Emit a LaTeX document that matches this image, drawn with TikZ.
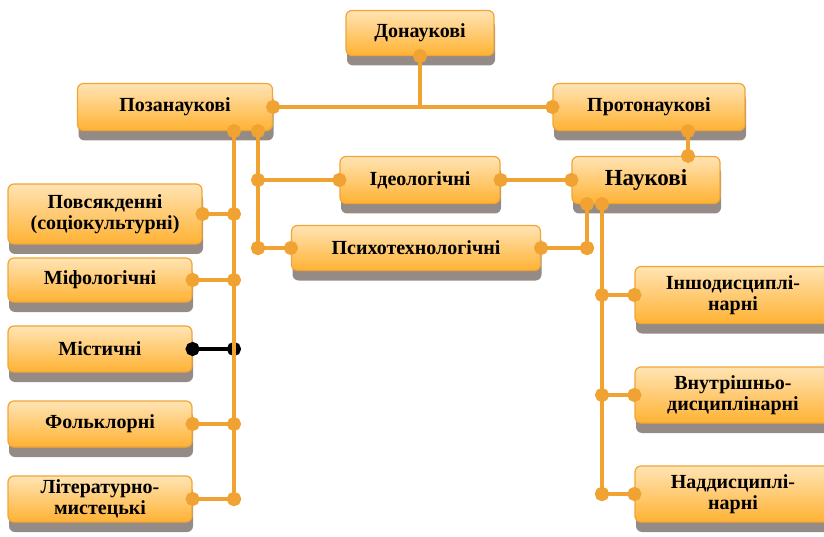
\documentclass[tikz,border=0pt]{standalone}
\usepackage{fontspec}
\setmainfont{Liberation Serif}
\usetikzlibrary{shadows,arrows.meta}
\definecolor{boxtop}{HTML}{FFE4B4}
\definecolor{boxbot}{HTML}{FFB233}
\definecolor{boxedge}{HTML}{F2A535}
\definecolor{lnkor}{HTML}{F0A232}
\definecolor{shadowgrey}{HTML}{948A86}

\begin{document}
\begin{tikzpicture}[x=1pt,y=-1pt,
		blok/.style={draw=boxedge,line width=1.2pt,rounded corners=6pt,top color=boxtop,bottom color=boxbot,
			general shadow={fill=shadowgrey,shadow yshift=-10pt,shadow xshift=1pt},
			font=\bfseries\fontsize{20}{21}\selectfont,align=center,inner sep=0pt},
		lnk/.style={draw=lnkor,line width=4pt,{Circle[length=14pt]}-{Circle[length=14pt]},shorten <=-7pt,shorten >=-7pt},
		blk/.style={lnk,draw=black}]
		\useasboundingbox (0,0) rectangle (824,537);
		\node[blok,minimum width=148pt,minimum height=45pt] (dona) at (420,33) {Донаукові};
		\node[blok,minimum width=195pt,minimum height=47pt] (poza) at (175,107) {Позанаукові};
		\node[blok,minimum width=192pt,minimum height=47pt] (proto) at (649,107) {Протонаукові};
		\node[blok,minimum width=160pt,minimum height=47pt] (ideo) at (420,180) {Ідеологічні};
		\node[blok,minimum width=148pt,minimum height=47pt,font=\bfseries\fontsize{23}{26}\selectfont] (nauk) at (646,180) {Наукові};
		\node[blok,minimum width=249pt,minimum height=45pt] (psy) at (416,248) {Психотехнологічні};
		\node[blok,minimum width=194pt,minimum height=60pt] (povs) at (105,214) {Повсякденні\\(соціокультурні)};
		\node[blok,minimum width=184pt,minimum height=44pt] (mif) at (100,280) {Міфологічні};
		\node[blok,minimum width=184pt,minimum height=46pt] (mist) at (100,349) {Містичні};
		\node[blok,minimum width=184pt,minimum height=46pt] (folk) at (100,424) {Фольклорні};
		\node[blok,minimum width=184pt,minimum height=46pt] (lit) at (100,499) {Літературно-\\мистецькі};
		\node[blok,minimum width=196pt,minimum height=57pt] (inshe) at (733,295) {Іншодисциплі-\\нарні};
		\node[blok,minimum width=196pt,minimum height=56pt] (vnut) at (733,395) {Внутрішньо-\\дисциплінарні};
		\node[blok,minimum width=196pt,minimum height=56pt] (nadd) at (733,494) {Наддисциплі-\\нарні};

		\coordinate (lv) at (234,0);
		\coordinate (mv) at (258,0);
		\coordinate (rv) at (587,0);
		\coordinate (sv) at (602,0);
		\coordinate (pv) at (688,0);

		\draw[lnk,{Circle[length=14pt]}-,shorten >=0pt] (dona.south) -- (dona.south |- poza.east);
		\draw[lnk] (poza.east) -- (proto.west);
		\draw[lnk] (proto.south -| pv) -- (nauk.north -| pv);
		\draw[lnk] (poza.south -| mv) -- (psy.west -| mv);
		\draw[lnk] (ideo.west -| mv) -- (ideo.west);
		\draw[lnk] (psy.west -| mv) -- (psy.west);
		\draw[lnk] (ideo.east) -- (nauk.west);
		\draw[lnk] (nauk.south -| rv) -- (psy.east -| rv);
		\draw[lnk] (psy.east -| rv) -- (psy.east);
		\draw[lnk] (nauk.south -| sv) -- (nadd.west -| sv);
		\foreach \b in {inshe,vnut,nadd}
			\draw[lnk] (\b.west -| sv) -- (\b.west);
		\draw[blk] (mist.east) -- (mist.east -| lv);
		\draw[lnk] (poza.south -| lv) -- (lit.east -| lv);
		\foreach \b in {povs,mif,folk,lit}
			\draw[lnk] (\b.east) -- (\b.east -| lv);
\end{tikzpicture}
\end{document}
